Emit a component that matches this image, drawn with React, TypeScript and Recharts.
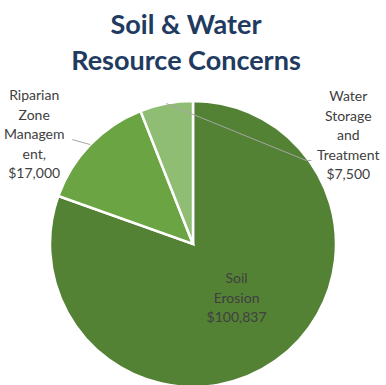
import React from 'react';
import { PieChart, Pie, Cell } from 'recharts';

const categories = ['Soil Erosion', 'Riparian Zone Management', 'Water Storage and Treatment'];
const values = [100837, 17000, 7500];
const labelLines: string[][] = [
  ['Soil', 'Erosion', '$100,837'],
  ['Riparian', 'Zone', 'Managem', 'ent,', '$17,000'],
  ['Water', 'Storage', 'and', 'Treatment', '$7,500'],
];
const colors = ['#548235', '#6AA443', '#8FBD74'];

const data = categories.map((name, i) => ({ name, value: values[i] }));

const RAD = Math.PI / 180;
const LINE_H = 19.5;
const FONT = 'Lato, "Open Sans", sans-serif';

const renderLabel = (props: any) => {
  const { cx, cy, midAngle, outerRadius, index } = props;
  const cos = Math.cos(-midAngle * RAD);
  const sin = Math.sin(-midAngle * RAD);
  const lines = labelLines[index];
  const textProps = { fontFamily: FONT, fontSize: 14, fill: '#404040', textAnchor: 'middle' as const };
  if (index === 0) {
    const r = outerRadius * 0.48;
    const x = cx + r * cos + 4;
    const y = cy + r * sin - 3;
    return (
      <g key={`l${index}`}>
        {lines.map((t, k) => (
          <text key={k} x={x} y={y + (k - (lines.length - 1) / 2) * LINE_H} dominantBaseline="central" {...textProps}>{t}</text>
        ))}
      </g>
    );
  }
  const sx = cx + outerRadius * cos;
  const sy = cy + outerRadius * sin;
  let ex: number, ey: number, hx: number, tx: number, ty: number;
  if (index === 1) {
    ex = sx - 18; ey = sy - 5; hx = ex; tx = ex - 38; ty = ey - 6;
  } else {
    ex = sx + 140; ey = sy + 57; hx = ex + 5; tx = ex + 42; ty = ey - 26;
  }
  return (
    <g key={`l${index}`}>
      <polyline points={`${sx},${sy} ${ex},${ey} ${hx},${ey}`} fill="none" stroke="#A6A6A6" strokeWidth={1} />
      {lines.map((t, k) => (
        <text key={k} x={tx} y={ty + (k - (lines.length - 1) / 2) * LINE_H} dominantBaseline="central" {...textProps}>{t}</text>
      ))}
    </g>
  );
};

export default function App() {
  return (
    <div style={{ position: 'absolute', left: 0, top: 0, width: 386, height: 385, background: '#fff', overflow: 'hidden' }}>
      <div style={{
        position: 'absolute', left: 0, top: 6, width: 372, textAlign: 'center',
        fontFamily: FONT, fontWeight: 700, fontSize: 27, lineHeight: '36px', color: '#203A60',
      }}>
        Soil &amp; Water<br />Resource Concerns
      </div>
      <PieChart width={386} height={385} style={{ position: 'absolute', left: 0, top: 0 }}>
        <Pie
          data={data}
          dataKey="value"
          nameKey="name"
          cx={188}
          cy={239}
          outerRadius={143}
          startAngle={90}
          endAngle={-270}
          stroke="#ffffff"
          strokeWidth={2.5}
          isAnimationActive={false}
          label={renderLabel}
          labelLine={false}
        >
          {data.map((d, i) => (
            <Cell key={d.name} fill={colors[i]} />
          ))}
        </Pie>
      </PieChart>
    </div>
  );
}
